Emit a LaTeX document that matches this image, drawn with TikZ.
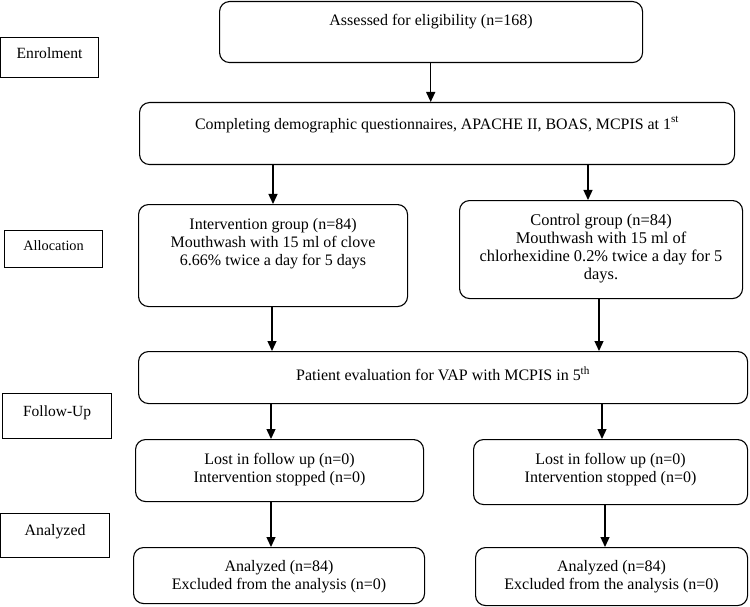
\documentclass[tikz,border=0pt]{standalone}
\usepackage{fontspec}
\setmainfont{Liberation Serif}
\usetikzlibrary{arrows.meta}
\newcommand\bt[4]{\parbox[t][#2pt][t]{#1pt}{\centering\vspace*{#3pt}#4\par}}
\newcommand\fs[1]{\fontsize{#1}{18}\selectfont}
\begin{document}
\begin{tikzpicture}[x=1pt,y=-1pt, font=\fs{16},
 rbox/.style={draw, rounded corners=10pt, line width=1.1pt, inner sep=0pt, anchor=north west},
 lbox/.style={draw, line width=1.2pt, inner sep=0pt, anchor=north west},
 arr/.style={-{Triangle[length=10pt,width=9pt]}, line width=1.3pt}]
\useasboundingbox (0,0) rectangle (750,607);
% stage labels
\node[lbox, font=\fs{15.6}] (enrol) at (0,37) {\bt{98}{40}{10}{Enrolment}};
\node[lbox, font=\fs{14.3}] (alloc) at (4,230) {\bt{98}{37}{10}{Allocation}};
\node[lbox, font=\fs{15.5}] (follow) at (2,393) {\bt{109}{45}{12}{Follow-Up}};
\node[lbox, font=\fs{15.9}] (anal) at (0,513) {\bt{109}{44}{11}{Analyzed}};
% flow boxes
\node[rbox] (assess) at (219,1) {\bt{423}{61}{13}{Assessed for eligibility (n=168)}};
\node[rbox, font=\fs{15.9}] (complete) at (139,102) {\bt{595}{62}{14}{Completing demographic questionnaires, APACHE II, BOAS, MCPIS at 1\textsuperscript{st}}};
\node[rbox] (interv) at (138,204) {\bt{269}{102}{14}{Intervention group (n=84)\\Mouthwash with 15 ml of clove\\6.66\% twice a day for 5 days}};
\node[rbox, font=\fs{16.4}] (control) at (459,200) {\bt{283}{98}{14}{Control group (n=84)\\Mouthwash with 15 ml of\\chlorhexidine 0.2\% twice a day for 5\\days.}};
\node[rbox] (patient) at (138,351) {\bt{609}{52}{15}{Patient evaluation for VAP with MCPIS in 5\textsuperscript{th}}};
\node[rbox] (lostL) at (135,439) {\bt{288}{62}{14}{Lost in follow up (n=0)\\Intervention stopped (n=0)}};
\node[rbox] (lostR) at (473,439) {\bt{274}{65}{14}{Lost in follow up (n=0)\\Intervention stopped (n=0)}};
\node[rbox] (anaL) at (133,547) {\bt{291}{56}{13}{Analyzed (n=84)\\Excluded from the analysis (n=0)}};
\node[rbox] (anaR) at (475,547) {\bt{272}{58}{13}{Analyzed (n=84)\\Excluded from the analysis (n=0)}};
% arrow columns
\coordinate (c0) at (430.7,0);
\coordinate (l1) at (273,0);
\coordinate (l2) at (272,0);
\coordinate (l3) at (271,0);
\coordinate (r1) at (588,0);
\coordinate (r2) at (599,0);
\coordinate (r3) at (602,0);
\coordinate (r4) at (605,0);
\draw[arr] (assess.south -| c0) -- (complete.north -| c0);
\draw[arr] (complete.south -| l1) -- (interv.north -| l1);
\draw[arr] (complete.south -| r1) -- (control.north -| r1);
\draw[arr] (interv.south -| l2) -- (patient.north -| l2);
\draw[arr] (control.south -| r2) -- (patient.north -| r2);
\draw[arr] (patient.south -| l3) -- (lostL.north -| l3);
\draw[arr] (patient.south -| r3) -- (lostR.north -| r3);
\draw[arr] (lostL.south -| l3) -- (anaL.north -| l3);
\draw[arr] (lostR.south -| r4) -- (anaR.north -| r4);
\end{tikzpicture}
\end{document}
